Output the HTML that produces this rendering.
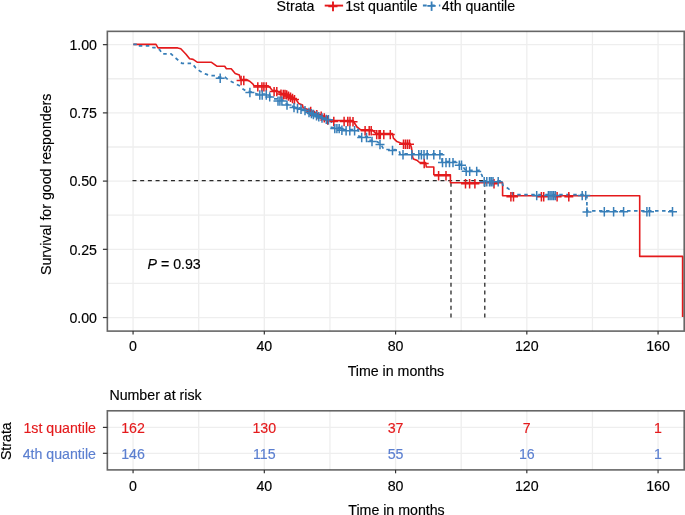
<!DOCTYPE html>
<html><head><meta charset="utf-8"><style>
html,body{margin:0;padding:0;background:#fff;width:685px;height:515px;overflow:hidden;font-family:"Liberation Sans",sans-serif;}
svg{display:block;will-change:transform}
</style></head><body>
<svg width="685" height="515" viewBox="0 0 685 515">
<rect width="685" height="515" fill="#fff"/>
<g stroke="#eeeeee" fill="none" stroke-width="1.3">
<line x1="133.07" y1="31.35" x2="133.07" y2="331.1"/>
<line x1="198.69" y1="31.35" x2="198.69" y2="331.1"/>
<line x1="264.32" y1="31.35" x2="264.32" y2="331.1"/>
<line x1="329.94" y1="31.35" x2="329.94" y2="331.1"/>
<line x1="395.57" y1="31.35" x2="395.57" y2="331.1"/>
<line x1="461.19" y1="31.35" x2="461.19" y2="331.1"/>
<line x1="526.82" y1="31.35" x2="526.82" y2="331.1"/>
<line x1="592.44" y1="31.35" x2="592.44" y2="331.1"/>
<line x1="658.07" y1="31.35" x2="658.07" y2="331.1"/>
<line x1="107.35" y1="317.55" x2="684.2" y2="317.55"/>
<line x1="107.35" y1="283.44" x2="684.2" y2="283.44"/>
<line x1="107.35" y1="249.33" x2="684.2" y2="249.33"/>
<line x1="107.35" y1="215.21" x2="684.2" y2="215.21"/>
<line x1="107.35" y1="181.10" x2="684.2" y2="181.10"/>
<line x1="107.35" y1="146.99" x2="684.2" y2="146.99"/>
<line x1="107.35" y1="112.88" x2="684.2" y2="112.88"/>
<line x1="107.35" y1="78.76" x2="684.2" y2="78.76"/>
<line x1="107.35" y1="44.65" x2="684.2" y2="44.65"/>
</g>
<g stroke="#2a2a2a" stroke-width="1.3" fill="none" stroke-dasharray="4 3.7">
<line x1="450.99" y1="317.55" x2="450.99" y2="181.10"/>
<line x1="484.79" y1="317.55" x2="484.79" y2="181.10"/>
<line x1="132.47" y1="180.55" x2="484.79" y2="180.55" stroke-width="1.2"/>
</g>
<path d="M133.3,44.4 H156 L158,47.9 H177.7 L180.8,48.8 L186,54.2 L189.6,58.8 L193.1,59.4 L197.5,62.3 H211.5 L216.8,66.2 H224.7 L226.4,68.8 H231.2 L235.2,73.5 L239.4,75.1 L240.5,79.5 H246.4 L250,81.5 L253,84.2 L254,85.9 H268.3 L270.4,87.9 L272.4,90.6 H276.8 L278.5,92 L282,93.5 H286 L290,96 L296,99.5 L298.7,103.5 L302.5,105 L303,107.7 L310.7,110.5 L317.2,113.8 L322.2,115.5 L326,118 L330,120.5 H352.9 L357,127 L360.4,129.7 H372 L374,131.7 L376,133.6 H392.5 L393.4,138.1 L396.9,141.6 L401.3,143.2 H410 L411.5,147.8 L412.7,157.4 L413.5,159 L417.4,160.6 L419.5,162.5 H425.6 L426.3,167 H433.8 V174.8 H450.4 V182.7 H502.6 V195.7 H639.7 V256.4 H682.6 V317" fill="none" stroke="#E41A1C" stroke-width="1.6" stroke-linejoin="round"/>
<path d="M133.3,44.4 H137 V45.9 H151 L153,47.6 H156 L158,48.8 L160,50 L162,53.8 H171 L174.7,57.3 L179,60.8 L182,63.4 H192 L195.7,67.8 L200.1,71.3 L205.3,73.9 L210.6,75.7 H216 L218,77.2 H225 L228.5,80 L234,83 L239.5,85.8 L243,89 L246.4,91.3 L250,91.5 L256.8,94 H268 L272.4,98.8 H277.2 L278,100.1 H283 L285.3,103.5 L295,107 L302.8,108.5 L309,111.5 L314.4,114 L320.6,116.5 L326,118.3 L331.5,119.5 V127.6 H341.4 L342,129.7 H358.3 L359,136.5 H367.2 L368.5,139.9 L372.6,140.6 L377.3,141.8 L380.8,144 L383.8,149.5 H392.5 L399,150 L400,153.8 H442 V161.6 H455.7 L458.3,164.3 H461.8 L464.4,169 L466.5,170.4 H479.3 L481.9,175.2 L483.8,180.8 H502.2 L502.6,185.1 L507.4,188 L511.3,190.8 L513,194.6 H586.9 V210.8 H672.5" fill="none" stroke="#377EB8" stroke-width="1.7" stroke-dasharray="3.5 3.5"/>
<path d="M236.6,80.5h9.0M241.1,75.8v9.4M239.3,80.5h9.0M243.8,75.8v9.4M253.3,86.9h9.0M257.8,82.2v9.4M257.4,86.9h9.0M261.9,82.2v9.4M259.4,86.9h9.0M263.9,82.2v9.4M261.8,86.9h9.0M266.3,82.2v9.4M269.6,91.6h9.0M274.1,86.9v9.4M272.3,91.6h9.0M276.8,86.9v9.4M276.5,94.1h9.0M281.0,89.4v9.4M278.8,94.5h9.0M283.3,89.8v9.4M280.5,94.5h9.0M285.0,89.8v9.4M282.2,94.9h9.0M286.7,90.2v9.4M284.0,96.1h9.0M288.5,91.4v9.4M286.0,97.3h9.0M290.5,92.6v9.4M288.0,98.5h9.0M292.5,93.8v9.4M290.0,99.6h9.0M294.5,94.9v9.4M306.2,111.5h9.0M310.7,106.8v9.4M312.3,114.6h9.0M316.8,109.9v9.4M316.7,116.2h9.0M321.2,111.5v9.4M319.8,117.9h9.0M324.3,113.2v9.4M323.2,120.1h9.0M327.7,115.4v9.4M329.3,121.5h9.0M333.8,116.8v9.4M339.6,121.5h9.0M344.1,116.8v9.4M343.3,121.5h9.0M347.8,116.8v9.4M345.5,121.5h9.0M350.0,116.8v9.4M348.5,121.7h9.0M353.0,117.0v9.4M360.6,130.7h9.0M365.1,126.0v9.4M364.7,130.7h9.0M369.2,126.0v9.4M366.7,130.7h9.0M371.2,126.0v9.4M372.2,134.6h9.0M376.7,129.9v9.4M374.5,134.6h9.0M379.0,129.9v9.4M375.8,134.6h9.0M380.3,129.9v9.4M379.3,134.6h9.0M383.8,129.9v9.4M385.8,134.6h9.0M390.3,129.9v9.4M399.0,144.2h9.0M403.5,139.5v9.4M401.0,144.2h9.0M405.5,139.5v9.4M403.0,144.2h9.0M407.5,139.5v9.4M405.0,144.2h9.0M409.5,139.5v9.4M419.7,163.5h9.0M424.2,158.8v9.4M434.1,175.8h9.0M438.6,171.1v9.4M441.5,175.8h9.0M446.0,171.1v9.4M461.0,183.7h9.0M465.5,179.0v9.4M465.1,183.7h9.0M469.6,179.0v9.4M470.4,183.7h9.0M474.9,179.0v9.4M489.5,183.7h9.0M494.0,179.0v9.4M506.4,196.7h9.0M510.9,192.0v9.4M509.0,196.7h9.0M513.5,192.0v9.4M536.9,196.7h9.0M541.4,192.0v9.4M539.2,196.7h9.0M543.7,192.0v9.4M552.6,196.7h9.0M557.1,192.0v9.4M564.3,196.7h9.0M568.8,192.0v9.4" fill="none" stroke="#E41A1C" stroke-width="1.5"/>
<path d="M215.7,78.2h9.0M220.2,73.5v9.4M245.4,92.5h9.0M249.9,87.8v9.4M255.3,95.0h9.0M259.8,90.3v9.4M257.7,95.0h9.0M262.2,90.3v9.4M261.8,95.0h9.0M266.3,90.3v9.4M265.2,96.9h9.0M269.7,92.2v9.4M273.5,101.1h9.0M278.0,96.4v9.4M275.4,101.1h9.0M279.9,96.4v9.4M277.4,101.1h9.0M281.9,96.4v9.4M282.5,105.1h9.0M287.0,100.4v9.4M289.5,107.6h9.0M294.0,102.9v9.4M293.0,108.5h9.0M297.5,103.8v9.4M296.5,109.2h9.0M301.0,104.5v9.4M300.5,110.6h9.0M305.0,105.9v9.4M304.5,112.5h9.0M309.0,107.8v9.4M306.9,113.6h9.0M311.4,108.9v9.4M308.9,114.5h9.0M313.4,109.8v9.4M312.0,115.8h9.0M316.5,111.1v9.4M314.3,116.8h9.0M318.8,112.1v9.4M317.5,118.0h9.0M322.0,113.3v9.4M321.8,119.4h9.0M326.3,114.7v9.4M323.9,119.8h9.0M328.4,115.1v9.4M330.3,128.6h9.0M334.8,123.9v9.4M332.4,128.6h9.0M336.9,123.9v9.4M334.7,128.6h9.0M339.2,123.9v9.4M337.4,130.3h9.0M341.9,125.6v9.4M341.6,130.7h9.0M346.1,126.0v9.4M345.3,130.7h9.0M349.8,126.0v9.4M350.1,130.7h9.0M354.6,126.0v9.4M357.2,137.5h9.0M361.7,132.8v9.4M362.0,137.5h9.0M366.5,132.8v9.4M367.5,141.5h9.0M372.0,136.8v9.4M375.5,144.5h9.0M380.0,139.8v9.4M388.0,150.5h9.0M392.5,145.8v9.4M398.5,154.8h9.0M403.0,150.1v9.4M407.3,154.8h9.0M411.8,150.1v9.4M414.3,154.8h9.0M418.8,150.1v9.4M416.9,154.8h9.0M421.4,150.1v9.4M419.5,154.8h9.0M424.0,150.1v9.4M422.7,154.8h9.0M427.2,150.1v9.4M429.3,154.8h9.0M433.8,150.1v9.4M435.4,154.8h9.0M439.9,150.1v9.4M438.0,162.6h9.0M442.5,157.9v9.4M441.5,162.6h9.0M446.0,157.9v9.4M445.0,162.6h9.0M449.5,157.9v9.4M448.5,162.6h9.0M453.0,157.9v9.4M454.8,165.3h9.0M459.3,160.6v9.4M457.0,165.3h9.0M461.5,160.6v9.4M461.7,171.2h9.0M466.2,166.5v9.4M465.2,171.4h9.0M469.7,166.7v9.4M472.2,171.4h9.0M476.7,166.7v9.4M479.7,181.8h9.0M484.2,177.1v9.4M482.3,181.8h9.0M486.8,177.1v9.4M485.0,181.8h9.0M489.5,177.1v9.4M486.7,181.8h9.0M491.2,177.1v9.4M488.5,181.8h9.0M493.0,177.1v9.4M493.7,181.8h9.0M498.2,177.1v9.4M532.2,195.6h9.0M536.7,190.9v9.4M543.9,195.6h9.0M548.4,190.9v9.4M545.6,195.6h9.0M550.1,190.9v9.4M547.4,195.6h9.0M551.9,190.9v9.4M549.1,195.6h9.0M553.6,190.9v9.4M550.9,195.6h9.0M555.4,190.9v9.4M577.7,195.6h9.0M582.2,190.9v9.4M581.2,195.6h9.0M585.7,190.9v9.4M599.8,211.8h9.0M604.3,207.1v9.4M609.1,211.8h9.0M613.6,207.1v9.4M619.1,211.8h9.0M623.6,207.1v9.4M642.4,211.8h9.0M646.9,207.1v9.4M645.0,211.8h9.0M649.5,207.1v9.4M668.0,211.8h9.0M672.5,207.1v9.4M582.5,212.0h9.0M587.0,207.3v9.4" fill="none" stroke="#377EB8" stroke-width="1.5"/>
<rect x="107.35" y="31.35" width="576.85" height="299.75" fill="none" stroke="#333" stroke-width="1.6" stroke-opacity="0.75"/>
<g stroke="#333" stroke-width="1.2">
<line x1="102.9" y1="317.55" x2="107.35" y2="317.55"/>
<line x1="102.9" y1="249.33" x2="107.35" y2="249.33"/>
<line x1="102.9" y1="181.10" x2="107.35" y2="181.10"/>
<line x1="102.9" y1="112.88" x2="107.35" y2="112.88"/>
<line x1="102.9" y1="44.65" x2="107.35" y2="44.65"/>
<line x1="133.07" y1="331.1" x2="133.07" y2="334.50"/>
<line x1="264.32" y1="331.1" x2="264.32" y2="334.50"/>
<line x1="395.57" y1="331.1" x2="395.57" y2="334.50"/>
<line x1="526.82" y1="331.1" x2="526.82" y2="334.50"/>
<line x1="658.07" y1="331.1" x2="658.07" y2="334.50"/>
</g>
<g font-family="Liberation Sans, sans-serif" font-size="14.2" fill="#000" stroke="#000" stroke-width="0.15">
<text x="97" y="322.75" text-anchor="end">0.00</text>
<text x="97" y="254.53" text-anchor="end">0.25</text>
<text x="97" y="186.30" text-anchor="end">0.50</text>
<text x="97" y="118.08" text-anchor="end">0.75</text>
<text x="97" y="49.85" text-anchor="end">1.00</text>
<text x="133.07" y="351.3" text-anchor="middle">0</text>
<text x="264.32" y="351.3" text-anchor="middle">40</text>
<text x="395.57" y="351.3" text-anchor="middle">80</text>
<text x="526.82" y="351.3" text-anchor="middle">120</text>
<text x="658.07" y="351.3" text-anchor="middle">160</text>
<text x="395.9" y="376.3" text-anchor="middle">Time in months</text>
<text transform="translate(51.4 184.3) rotate(-90)" text-anchor="middle">Survival for good responders</text>
<text x="147.5" y="268.8"><tspan font-style="italic">P</tspan> = 0.93</text>
<text x="276.5" y="11.4">Strata</text>
<text x="345.2" y="11.4">1st quantile</text>
<text x="441.8" y="11.4">4th quantile</text>
</g>
<g stroke="#E41A1C" stroke-width="1.9" fill="none"><line x1="324.7" y1="5.6" x2="343.1" y2="5.6"/><line x1="328.3" y1="6.3" x2="337.5" y2="6.3"/><line x1="333" y1="1.5" x2="333" y2="11.2"/></g>
<g stroke="#377EB8" stroke-width="1.8" fill="none"><line x1="422.9" y1="5.5" x2="440.3" y2="5.5" stroke-dasharray="3.8 4.2"/><line x1="427.3" y1="5.9" x2="435.7" y2="5.9"/><line x1="431.6" y1="1.5" x2="431.6" y2="10.9"/></g>
<g stroke="#eeeeee" fill="none" stroke-width="1.3">
<line x1="133.07" y1="410.8" x2="133.07" y2="469.9"/>
<line x1="198.69" y1="410.8" x2="198.69" y2="469.9"/>
<line x1="264.32" y1="410.8" x2="264.32" y2="469.9"/>
<line x1="329.94" y1="410.8" x2="329.94" y2="469.9"/>
<line x1="395.57" y1="410.8" x2="395.57" y2="469.9"/>
<line x1="461.19" y1="410.8" x2="461.19" y2="469.9"/>
<line x1="526.82" y1="410.8" x2="526.82" y2="469.9"/>
<line x1="592.44" y1="410.8" x2="592.44" y2="469.9"/>
<line x1="658.07" y1="410.8" x2="658.07" y2="469.9"/>
<line x1="107.35" y1="427.40" x2="684.2" y2="427.40"/>
<line x1="107.35" y1="453.30" x2="684.2" y2="453.30"/>
</g>
<rect x="107.35" y="410.8" width="576.85" height="59.10" fill="none" stroke="#333" stroke-width="1.6" stroke-opacity="0.75"/>
<g stroke="#333" stroke-width="1.2">
<line x1="102.9" y1="427.40" x2="107.35" y2="427.40"/>
<line x1="102.9" y1="453.30" x2="107.35" y2="453.30"/>
<line x1="133.07" y1="469.9" x2="133.07" y2="473.30"/>
<line x1="264.32" y1="469.9" x2="264.32" y2="473.30"/>
<line x1="395.57" y1="469.9" x2="395.57" y2="473.30"/>
<line x1="526.82" y1="469.9" x2="526.82" y2="473.30"/>
<line x1="658.07" y1="469.9" x2="658.07" y2="473.30"/>
</g>
<g font-family="Liberation Sans, sans-serif" font-size="14.2" stroke="#000" stroke-width="0.15">
<text x="109.4" y="399.9">Number at risk</text>
<text transform="translate(11.0 441.2) rotate(-90)" text-anchor="middle">Strata</text>
<text x="96" y="432.80" text-anchor="end" fill="#E41A1C" stroke="#E41A1C">1st quantile</text>
<text x="96" y="458.70" text-anchor="end" fill="#5B7FD0" stroke="#5B7FD0">4th quantile</text>
<text x="133.07" y="433.00" text-anchor="middle" fill="#E41A1C" stroke="#E41A1C">162</text>
<text x="133.07" y="458.90" text-anchor="middle" fill="#5B7FD0" stroke="#5B7FD0">146</text>
<text x="264.32" y="433.00" text-anchor="middle" fill="#E41A1C" stroke="#E41A1C">130</text>
<text x="264.32" y="458.90" text-anchor="middle" fill="#5B7FD0" stroke="#5B7FD0">115</text>
<text x="395.57" y="433.00" text-anchor="middle" fill="#E41A1C" stroke="#E41A1C">37</text>
<text x="395.57" y="458.90" text-anchor="middle" fill="#5B7FD0" stroke="#5B7FD0">55</text>
<text x="526.82" y="433.00" text-anchor="middle" fill="#E41A1C" stroke="#E41A1C">7</text>
<text x="526.82" y="458.90" text-anchor="middle" fill="#5B7FD0" stroke="#5B7FD0">16</text>
<text x="658.07" y="433.00" text-anchor="middle" fill="#E41A1C" stroke="#E41A1C">1</text>
<text x="658.07" y="458.90" text-anchor="middle" fill="#5B7FD0" stroke="#5B7FD0">1</text>
<text x="133.07" y="490.5" text-anchor="middle">0</text>
<text x="264.32" y="490.5" text-anchor="middle">40</text>
<text x="395.57" y="490.5" text-anchor="middle">80</text>
<text x="526.82" y="490.5" text-anchor="middle">120</text>
<text x="658.07" y="490.5" text-anchor="middle">160</text>
<text x="396.5" y="515" text-anchor="middle">Time in months</text>
</g>
</svg>
</body></html>
